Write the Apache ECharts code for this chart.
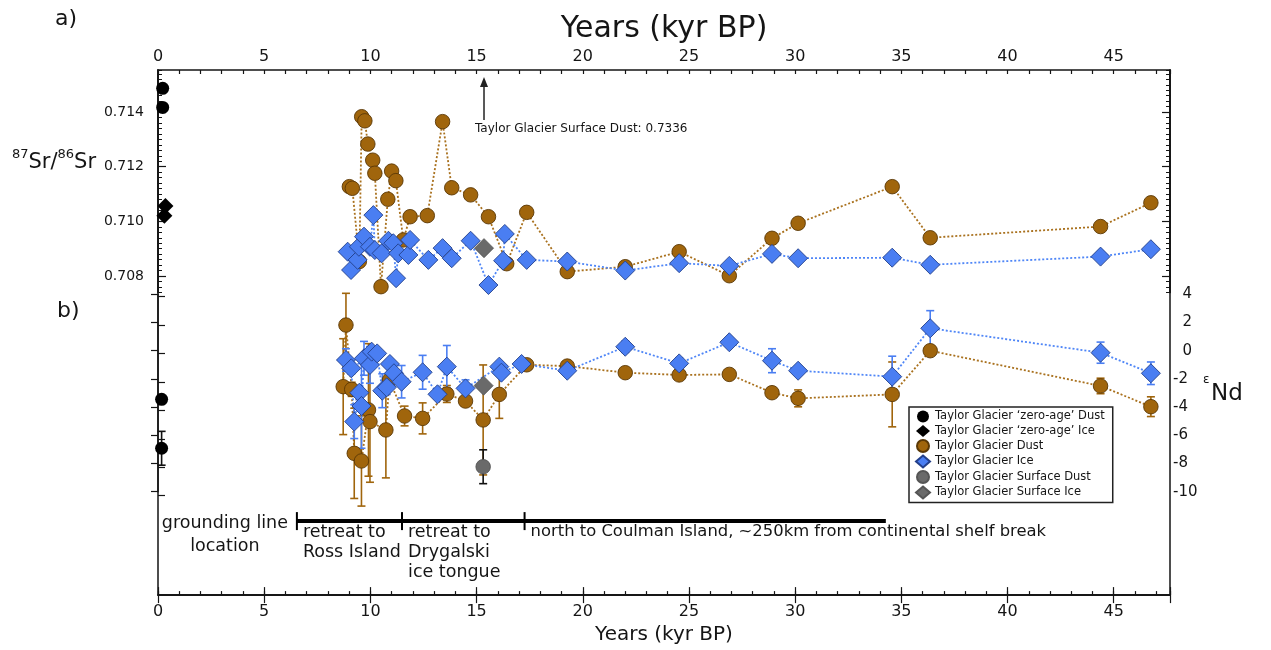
<!DOCTYPE html>
<html>
<head>
<meta charset="utf-8">
<title>Taylor Glacier Sr / Nd</title>
<script src="https://cdn.jsdelivr.net/npm/echarts@6/dist/echarts.min.js"></script>
<style>
html, body { margin: 0; padding: 0; background: #fff; }
#chart { width: 1271px; height: 650px; }
</style>
</head>
<body>
<div id="chart"></div>
<script>
// ---- data (age kyr BP, value[, 1 sigma]) ----
var zeroDustSr = [[0.22, 0.71487], [0.22, 0.71417]];
var zeroIceSr = [[0.35, 0.71056], [0.30, 0.71021]];
var dustSr = [[9.01, 0.71127], [9.15, 0.71121], [9.48, 0.70853], [9.59, 0.71383], [9.74, 0.71368], [9.88, 0.71283],
  [10.11, 0.71224], [10.21, 0.71176], [10.5, 0.70761], [10.82, 0.71081], [11.0, 0.71184], [11.2, 0.71149],
  [11.55, 0.70932], [11.87, 0.71017], [12.68, 0.71021], [13.4, 0.71365], [13.83, 0.71123], [14.72, 0.71097],
  [15.56, 0.71017], [16.42, 0.70845], [17.36, 0.71033], [19.27, 0.70816], [22.0, 0.70834], [24.54, 0.70889],
  [26.9, 0.70801], [28.91, 0.70938], [30.14, 0.70993], [34.57, 0.71127], [36.36, 0.7094], [44.38, 0.70981], [46.75, 0.71068]];
var iceSr = [[8.93, 0.70889], [9.09, 0.70822], [9.4, 0.70859], [9.46, 0.70907], [9.7, 0.70944], [9.98, 0.70907],
  [10.14, 0.71023], [10.21, 0.70895], [10.53, 0.70883], [10.85, 0.70929], [11.08, 0.7092], [11.21, 0.70792],
  [11.31, 0.70883], [11.79, 0.70877], [11.87, 0.70932], [12.73, 0.70859], [13.4, 0.70902], [13.83, 0.70865],
  [14.72, 0.70929], [15.56, 0.70767], [16.25, 0.70856], [16.33, 0.70954], [17.36, 0.70859], [19.27, 0.70853],
  [22.0, 0.7082], [24.54, 0.70847], [26.9, 0.70837], [28.91, 0.70881], [30.14, 0.70865], [34.57, 0.70867],
  [36.36, 0.70841], [44.38, 0.70871], [46.75, 0.70898]];
var surfIceSr = [[15.35, 0.70902]];
var surfDustSr = [[15.35, 0.7336]];   // off scale, shown with arrow

var zeroDustNd = [[0.17, -3.45, 0], [0.17, -6.92, 1.2]];
var dustNd = [[8.72, -2.55, 3.4], [8.85, 1.82, 2.25], [9.12, -2.74, 0.5], [9.24, -7.28, 3.2], [9.58, -7.82, 3.2],
  [9.91, -4.2, 4.7], [9.98, -5.03, 4.3], [10.73, -5.62, 3.4], [10.9, -2.08, 0.5], [11.61, -4.63, 0.7],
  [12.46, -4.8, 1.1], [13.6, -3.07, 0.6], [14.48, -3.57, 0.3], [15.31, -4.91, 3.9], [16.07, -3.1, 1.7],
  [17.36, -1.0, 0.3], [19.27, -1.09, 0.3], [22.0, -1.56, 0.3], [24.54, -1.72, 0.3], [26.9, -1.68, 0.3],
  [28.91, -2.98, 0.3], [30.14, -3.38, 0.6], [34.57, -3.1, 2.3], [36.36, 0.0, 0.3], [44.38, -2.5, 0.55], [46.75, -3.97, 0.7]];
var iceNd = [[8.85, -0.66, 0.8], [9.1, -1.25, 0.4], [9.24, -5.03, 1.2], [9.48, -2.98, 0.5], [9.58, -3.92, 3.0],
  [9.7, -0.54, 1.2], [9.98, -1.01, 1.3], [10.06, -0.07, 0.3], [10.32, -0.19, 0.3], [10.56, -2.84, 1.2],
  [10.77, -2.6, 0.5], [10.92, -0.94, 0.3], [11.11, -1.6, 0.3], [11.47, -2.2, 1.15], [12.46, -1.53, 1.2],
  [13.16, -3.09, 0.3], [13.6, -1.13, 1.5], [14.48, -2.67, 0.6], [16.07, -1.13, 0.3], [16.17, -1.56, 0.3],
  [17.12, -0.94, 0.3], [19.27, -1.42, 0.3], [22.0, 0.28, 0.4], [24.54, -0.9, 0.4], [26.9, 0.6, 0.3],
  [28.91, -0.71, 0.85], [30.14, -1.42, 0.3], [34.57, -1.84, 1.45], [36.36, 1.59, 1.25], [44.38, -0.14, 0.75], [46.75, -1.6, 0.8]];
var surfDustNd = [[15.31, -8.23, 1.2]];
var surfIceNd = [[15.33, -2.48, 0]];

// grounding line history
var periods = [[6.54, 11.49], [11.49, 17.26], [17.26, 34.27]];
var periodLabels = ['retreat to\nRoss Island', 'retreat to\nDrygalski\nice tongue',
  'north to Coulman Island, ~250km from continental shelf break'];
var groundingLabel = 'grounding line\nlocation';

var srMajor = [0.708, 0.710, 0.712, 0.714];

var NAMES = {
  zeroDust: 'Taylor Glacier \u2018zero-age\u2019 Dust',
  zeroIce: 'Taylor Glacier \u2018zero-age\u2019 Ice',
  dust: 'Taylor Glacier Dust',
  ice: 'Taylor Glacier Ice',
  surfDust: 'Taylor Glacier Surface Dust',
  surfIce: 'Taylor Glacier Surface Ice'
};

var FONT = '"DejaVu Sans", "Liberation Sans", sans-serif';
var INK = '#151515';
var BROWN = '#a0650c', BROWN_EDGE = '#5a3806', BROWN_LINE = '#a9711e';
var BLUE = '#4a7ef2', BLUE_EDGE = '#233f8a', BLUE_LINE = '#4f86f7';
var GREY = '#6a6a6a';

var XMAX = 47.65, SR_MIN = 0.7074, SR_MAX = 0.71554;
// xAxis indices: 0/1 top, 2/3 bottom, 4 Sr panel, 5 Nd panel, 6 left Nd ticks
var X_SR = 4, X_ND = 5, Y_SR = 1, Y_ND = 5;

var chart = echarts.init(document.getElementById('chart'));

function yearAxis(pos, major) {
  return {
    gridIndex: 0, type: 'value', position: pos, min: 0, max: XMAX,
    interval: major ? 5 : 1,
    axisLine: { show: major, lineStyle: { color: INK, width: 1.5 } },
    axisTick: { inside: true, length: major ? 8 : 4, lineStyle: { color: INK, width: 1.2 } },
    axisLabel: major ? {
      fontSize: 16, color: INK, fontFamily: FONT, margin: pos === 'top' ? 5 : 9,
      formatter: function (v) { return v % 5 === 0 ? String(v) : ''; }
    } : { show: false },
    splitLine: { show: false },
    name: major ? 'Years (kyr BP)' : '',
    nameLocation: 'middle',
    nameGap: pos === 'top' ? 25 : 26,
    nameTextStyle: { fontSize: pos === 'top' ? 30 : 20, color: INK, fontFamily: FONT }
  };
}
function hiddenX(g) {
  return { gridIndex: g, type: 'value', min: 0, max: XMAX, show: false };
}
function srAxis(pos, major) {
  return {
    gridIndex: 1, type: 'value', position: pos, min: SR_MIN, max: SR_MAX, interval: 0.0002,
    axisLine: { show: true, lineStyle: { color: INK, width: 1.5 } },
    axisTick: major ? { inside: true, length: 8, customValues: srMajor, lineStyle: { color: INK, width: 1.2 } }
                    : { inside: true, length: 4, lineStyle: { color: INK, width: 1 } },
    axisLabel: (major && pos === 'left') ? {
      customValues: srMajor, fontSize: 14, color: INK, fontFamily: FONT, margin: 14,
      formatter: function (v) { return v.toFixed(3); }
    } : { show: false },
    splitLine: { show: false }
  };
}

function errBars(color) {
  return function (params, api) {
    var x = api.value(0), y = api.value(1), e = api.value(2);
    if (!e) return null;
    var a = api.coord([x, y + e]), b = api.coord([x, y - e]);
    var st = { stroke: color, lineWidth: 1.6 };
    return {
      type: 'group', children: [
        { type: 'line', shape: { x1: a[0], y1: a[1], x2: b[0], y2: b[1] }, style: st },
        { type: 'line', shape: { x1: a[0] - 4, y1: a[1], x2: a[0] + 4, y2: a[1] }, style: st },
        { type: 'line', shape: { x1: b[0] - 4, y1: b[1], x2: b[0] + 4, y2: b[1] }, style: st }
      ]
    };
  };
}
function errSeries(data, color) {
  return {
    type: 'custom', coordinateSystem: 'cartesian2d', xAxisIndex: X_ND, yAxisIndex: Y_ND, data: data, z: 3, silent: true,
    encode: { x: 0, y: 1 }, renderItem: errBars(color)
  };
}
function lineSeries(data, xi, yi, color) {
  return {
    type: 'line', xAxisIndex: xi, yAxisIndex: yi, data: data, symbol: 'none', silent: true, z: 2,
    clip: false, lineStyle: { color: color, width: 1.8, type: [2, 2] }
  };
}
function dots(name, data, xi, yi, symbol, size, fill, edge, z) {
  return {
    name: name, type: 'scatter', xAxisIndex: xi, yAxisIndex: yi, data: data, clip: false,
    symbol: symbol, symbolSize: size, z: z, encode: { x: 0, y: 1 },
    itemStyle: { color: fill, borderColor: edge, borderWidth: edge ? 0.9 : 0, opacity: 1 }
  };
}

function renderPeriod(params, api) {
  var cs = params.coordSys;
  var i = params.dataIndex;
  var x0 = api.coord([api.value(0), 0])[0];
  var x1 = api.coord([api.value(1), 0])[0];
  var yb = cs.y + cs.height - 74;
  var size = periodLabels[i].indexOf('\n') < 0 ? 16.4 : 17.5;
  var kids = [
    { type: 'line', shape: { x1: x0, y1: yb, x2: x1, y2: yb }, style: { stroke: '#000', lineWidth: 4 } },
    { type: 'line', shape: { x1: x0, y1: yb - 9, x2: x0, y2: yb + 9 }, style: { stroke: '#000', lineWidth: 2 } },
    { type: 'text', style: { text: periodLabels[i], x: x0 + 6, y: yb + 1, fill: INK,
      font: size + 'px ' + FONT, lineHeight: 20, align: 'left', textAlign: 'left', verticalAlign: 'top', textVerticalAlign: 'top' } }
  ];
  if (i === 0) {
    kids.push({ type: 'text', style: { text: groundingLabel, x: x0 - 72, y: yb - 9, fill: INK,
      font: '17.5px ' + FONT, lineHeight: 23, align: 'center', textAlign: 'center', verticalAlign: 'top', textVerticalAlign: 'top' } });
  }
  return { type: 'group', children: kids };
}

function renderArrow(params, api) {
  var cs = params.coordSys;
  var x = api.coord([api.value(0), SR_MAX])[0];
  var yTip = cs.y + 7, yTail = cs.y + 50;
  return {
    type: 'group', children: [
      { type: 'line', shape: { x1: x, y1: yTail, x2: x, y2: yTip + 8 }, style: { stroke: '#222', lineWidth: 1.5 } },
      { type: 'polygon', shape: { points: [[x, yTip], [x - 4, yTip + 10], [x + 4, yTip + 10]] }, style: { fill: '#222' } },
      { type: 'text', style: { text: NAMES.surfDust + ': ' + api.value(1), x: x - 9, y: yTail + 9, fill: INK,
        font: '12px ' + FONT, align: 'left', textAlign: 'left', verticalAlign: 'middle', textVerticalAlign: 'middle' } }
    ]
  };
}

var option = {
  animation: false,
  backgroundColor: '#fff',
  textStyle: { fontFamily: FONT },
  grid: [
    { left: 158, top: 70, width: 1012, height: 527, show: true, borderColor: INK, borderWidth: 1.5, backgroundColor: 'transparent' },
    { left: 158, top: 70, width: 1012, height: 222.4 },
    { left: 158, top: 294.3, width: 1012, height: 197.4 },
    { left: 158, top: 296.7, width: 1012, height: 199 }
  ],
  xAxis: [
    yearAxis('top', true), yearAxis('top', false),
    yearAxis('bottom', true), yearAxis('bottom', false),
    hiddenX(1), hiddenX(2), hiddenX(3)
  ],
  yAxis: [
    { gridIndex: 0, type: 'value', min: 0, max: 1, show: false },
    srAxis('left', false), srAxis('left', true),
    srAxis('right', false), srAxis('right', true),
    {
      gridIndex: 2, type: 'value', position: 'right', min: -10, max: 4, interval: 2,
      axisLine: { show: true, lineStyle: { color: INK, width: 1.5 } },
      axisTick: { inside: true, length: 7, lineStyle: { color: INK, width: 1.2 } },
      axisLabel: { fontSize: 15, color: INK, fontFamily: FONT, margin: 3,
        formatter: function (v) { return v < 0 ? '-' + Math.abs(v) : '\u2007' + v; } },
      splitLine: { show: false }
    },
    {
      gridIndex: 3, type: 'value', position: 'left', min: -10, max: 4, interval: 2,
      axisLine: { show: false }, axisLabel: { show: false }, splitLine: { show: false },
      axisTick: { inside: true, length: 7, lineStyle: { color: INK, width: 1.2 } }
    }
  ],
  legend: {
    left: 909, top: 407, orient: 'vertical', selectedMode: false,
    itemGap: 1.5, itemWidth: 14, itemHeight: 12, padding: [3, 8, 3, 6],
    borderColor: '#222', borderWidth: 1.5, backgroundColor: '#fff',
    textStyle: { fontFamily: FONT, fontSize: 11.5, lineHeight: 13, color: INK },
    data: [
      { name: NAMES.zeroDust, icon: 'circle' },
      { name: NAMES.zeroIce, icon: 'diamond' },
      { name: NAMES.dust, icon: 'circle' },
      { name: NAMES.ice, icon: 'diamond' },
      { name: NAMES.surfDust, icon: 'circle' },
      { name: NAMES.surfIce, icon: 'diamond' }
    ]
  },
  graphic: [
    { type: 'text', left: 55, top: 8, style: { text: 'a)', font: '22px ' + FONT, fill: INK } },
    { type: 'text', left: 57, top: 300, style: { text: 'b)', font: '22px ' + FONT, fill: INK } },
    { type: 'text', left: 12, top: 148, style: {
      text: '{s|87}{b|Sr/}{s|86}{b|Sr}', fill: INK,
      rich: { s: { fontSize: 13, fontFamily: FONT, lineHeight: 14, verticalAlign: 'top', fill: INK },
              b: { fontSize: 21, fontFamily: FONT, lineHeight: 30, fill: INK } } } },
    { type: 'text', left: 1203, top: 374, style: { text: '\u03b5', font: '12px ' + FONT, fill: INK } },
    { type: 'text', left: 1211, top: 383, style: { text: 'Nd', font: '23px ' + FONT, fill: INK } }
  ],
  series: [
    lineSeries(dustSr, X_SR, Y_SR, BROWN_LINE),
    lineSeries(iceSr, X_SR, Y_SR, BLUE_LINE),
    lineSeries(dustNd, X_ND, Y_ND, BROWN_LINE),
    lineSeries(iceNd, X_ND, Y_ND, BLUE_LINE),
    errSeries(dustNd, BROWN),
    errSeries(iceNd, BLUE),
    errSeries(surfDustNd, '#111'),
    errSeries(zeroDustNd, '#111'),
    dots(NAMES.zeroDust, zeroDustSr, X_SR, Y_SR, 'circle', 13, '#000', null, 6),
    dots(NAMES.zeroDust, zeroDustNd, X_ND, Y_ND, 'circle', 13, '#000', null, 6),
    dots(NAMES.zeroIce, zeroIceSr, X_SR, Y_SR, 'diamond', 16, '#000', null, 6),
    dots(NAMES.dust, dustSr, X_SR, Y_SR, 'circle', 14.5, BROWN, BROWN_EDGE, 5),
    dots(NAMES.dust, dustNd, X_ND, Y_ND, 'circle', 14.5, BROWN, BROWN_EDGE, 5),
    dots(NAMES.ice, iceSr, X_SR, Y_SR, 'diamond', 19, BLUE, BLUE_EDGE, 6),
    dots(NAMES.ice, iceNd, X_ND, Y_ND, 'diamond', 19, BLUE, BLUE_EDGE, 6),
    dots(NAMES.surfDust, surfDustNd, X_ND, Y_ND, 'circle', 14.5, GREY, '#555', 7),
    dots(NAMES.surfIce, surfIceSr, X_SR, Y_SR, 'diamond', 19, GREY, '#555', 7),
    dots(NAMES.surfIce, surfIceNd, X_ND, Y_ND, 'diamond', 19, GREY, '#555', 7),
    { type: 'custom', coordinateSystem: 'cartesian2d', xAxisIndex: X_SR, yAxisIndex: Y_SR, data: surfDustSr, silent: true, z: 8,
      encode: { x: 0, y: 1 }, renderItem: renderArrow },
    { type: 'custom', coordinateSystem: 'cartesian2d', xAxisIndex: 0, yAxisIndex: 0, data: periods, silent: true, z: 8,
      encode: { x: [0, 1] }, renderItem: renderPeriod }
  ]
};

chart.setOption(option);
</script>
</body>
</html>
